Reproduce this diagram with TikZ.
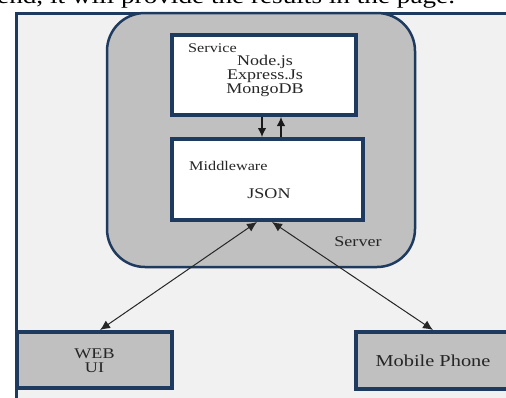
\documentclass[tikz,border=0pt]{standalone}
\usepackage{fontspec}
\setmainfont[FakeStretch=1.22]{Liberation Serif}
\usetikzlibrary{arrows.meta}
\definecolor{navy}{HTML}{1F3A5F}
\definecolor{frameBg}{HTML}{F1F1F1}
\definecolor{boxGray}{HTML}{C0C0C0}
\definecolor{txt}{HTML}{262626}
\begin{document}
\begin{tikzpicture}[x=1pt,y=-1pt,
  serverbox/.style={draw=navy, fill=boxGray, line width=2.5pt, rounded corners=38pt, inner sep=0pt},
  whitebox/.style={draw=navy, fill=white, line width=4pt, inner sep=0pt},
  graybox/.style={draw=navy, fill=boxGray, line width=4pt, inner sep=0pt},
  lbl/.style={inner sep=0pt, text=txt, font=\fontsize{14.8}{14}\selectfont},
  small/.style={inner sep=0pt, text=txt, font=\fontsize{13.3}{14}\selectfont},
  shortarr/.style={-{Latex[length=9pt,width=8.5pt]}, line width=1.1pt, black!90},
  longarr/.style={{Latex[length=10pt,width=9pt]}-{Latex[length=10pt,width=9pt]}, line width=1pt, black!85}
]
\useasboundingbox (0,0) rectangle (506,397);
\clip (0,0) rectangle (506,397);
\fill[white] (0,0) rectangle (506,397);
% cut-off caption line at the top
\node[anchor=base west, inner sep=0pt, font=\fontsize{22.3}{24}\selectfont, text=black] (caption) at (-3,3) {end, it will provide the results in the page.};
% frame
\fill[frameBg] (16.5,13) rectangle (540,420);
\draw[navy, line width=3pt] (16.5,420) -- (16.5,13) -- (540,13);
% server
\node[serverbox, minimum width=308pt, minimum height=254pt] (server) at (261,140) {};
% boxes
\node[whitebox, minimum width=184pt, minimum height=80pt] (svc) at (264,75) {};
\node[whitebox, minimum width=191pt, minimum height=81pt] (mid) at (267.5,179.5) {};
\node[graybox, minimum width=155pt, minimum height=56pt] (web) at (94.5,360) {};
\node[graybox, minimum width=164pt, minimum height=57pt] (mob) at (438,360.5) {};
% texts
\node[small, anchor=west] (svct) at (188,48) {Service};
\node[lbl, align=center] (stack) at (265,76) {Node.js\\Express.Js\\MongoDB};
\node[small, anchor=west] (midt) at (189,166) {Middleware};
\node[lbl] (json) at (269,194) {JSON};
\node[lbl] (servt) at (358,242) {Server};
\node[lbl, align=center] (webt) at (94.5,360.5) {WEB\\UI};
\node[inner sep=0pt, text=txt, font=\fontsize{16.7}{18}\selectfont] (mobt) at (433,361) {Mobile Phone};
% connectors
\draw[shortarr] ([xshift=-2pt]svc.south) -- ([xshift=-2pt]svc.south |- mid.north);
\draw[shortarr] ([xshift=17pt]svc.south |- mid.north) -- ([xshift=17pt]svc.south);
\draw[longarr] ([xshift=5.5pt]web.north) -- ([xshift=-10.5pt]mid.south);
\draw[longarr] ([xshift=-5pt]mob.north) -- ([xshift=4.5pt]mid.south);
\end{tikzpicture}
\end{document}
